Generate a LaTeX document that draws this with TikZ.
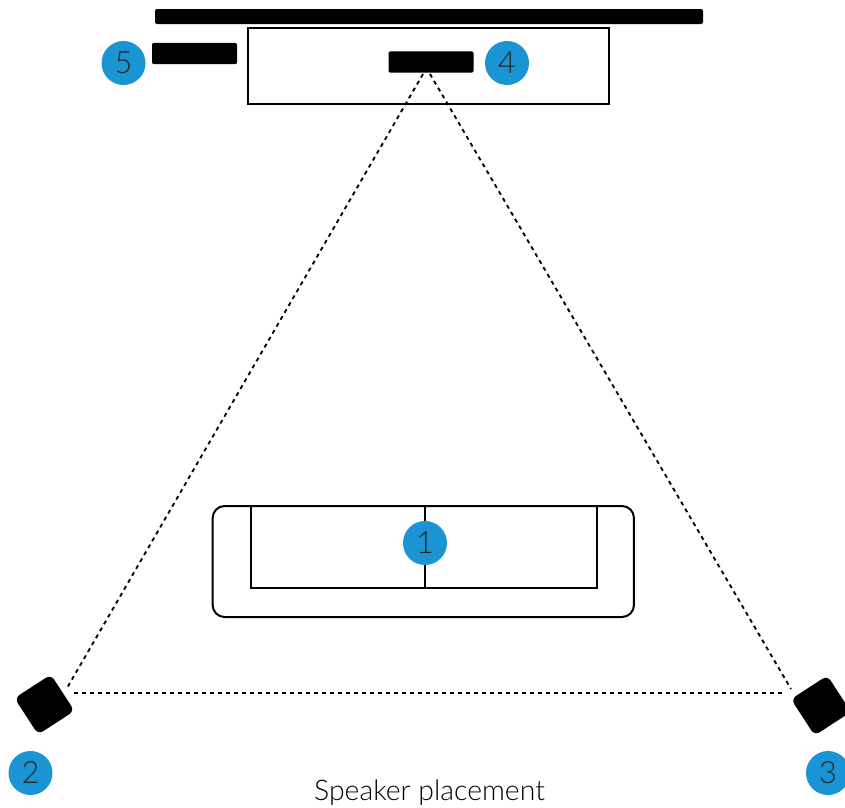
\documentclass[tikz,border=0pt]{standalone}
\usepackage{fontspec}
\setmainfont{Lato Light}
\definecolor{badgeblue}{HTML}{1A94D3}
\tikzset{
  outline/.style={draw=black,line width=1.5pt,fill=none},
  blackbar/.style={fill=black,rounded corners=1.5pt,minimum width=63.75pt,minimum height=16pt},
  speaker/.style={fill=black,rounded corners=4.5pt,minimum width=32.5pt,minimum height=32.5pt,rotate=33},
  badge/.style={circle,fill=badgeblue,minimum size=33pt,text=black!85,font=\fontsize{23}{23}\selectfont},
  sightline/.style={black,line width=1.4pt,dash pattern=on 3pt off 3pt}
}
\begin{document}
\begin{tikzpicture}[x=0.75pt,y=-0.75pt]
    \tikzstyle{every node}+=[inner sep=0pt]
    \useasboundingbox (0,0) rectangle (845,807);
    \node [fill=black,rounded corners=1.5pt,minimum width=411pt,minimum height=11.25pt] (wall) at (429,16.5) {};
    \node [outline,minimum width=270.75pt,minimum height=57pt] (stand) at (428.5,66) {};
    \node [blackbar] (centerbar) at (431,62) {};
    \node [blackbar] (sidebar) at (194.5,53.5) {};
    \node [outline,rounded corners=9pt,minimum width=316pt,minimum height=83.25pt] (sofa) at (423.3,561.5) {};
    \node [outline,minimum width=259.5pt,minimum height=61.5pt] (seat) at (424,547) {};
    \draw [line width=1.5pt] ([xshift=0.75pt]seat.north) -- ([xshift=0.75pt]seat.south);
    \node [speaker] (leftspk) at (44.5,704.5) {};
    \node [speaker] (rightspk) at (821,705.5) {};
    % ends of the dashed lines
    \coordinate (apexl) at (423,74);
    \coordinate (apexr) at (430,74);
    \coordinate (leftl) at (67,688);
    \coordinate (rightl) at (791,689);
    \coordinate (baseleft) at (74,693);
    \coordinate (baseright) at (782,693);
    \draw [sightline] (apexl) -- (leftl);
    \draw [sightline] (apexr) -- (rightl);
    \draw [sightline] (baseleft) -- (baseright);
    \node [badge] (one) at (425,543) {1};
    \node [badge] (two) at (30.5,773) {2};
    \node [badge] (three) at (828,773) {3};
    \node [badge] (four) at (507,63) {4};
    \node [badge] (five) at (123.5,63) {5};
    \node [font=\fontsize{21.3}{21.3}\selectfont,text=black] (caption) at (429.5,793) {Speaker placement};
\end{tikzpicture}
\end{document}
